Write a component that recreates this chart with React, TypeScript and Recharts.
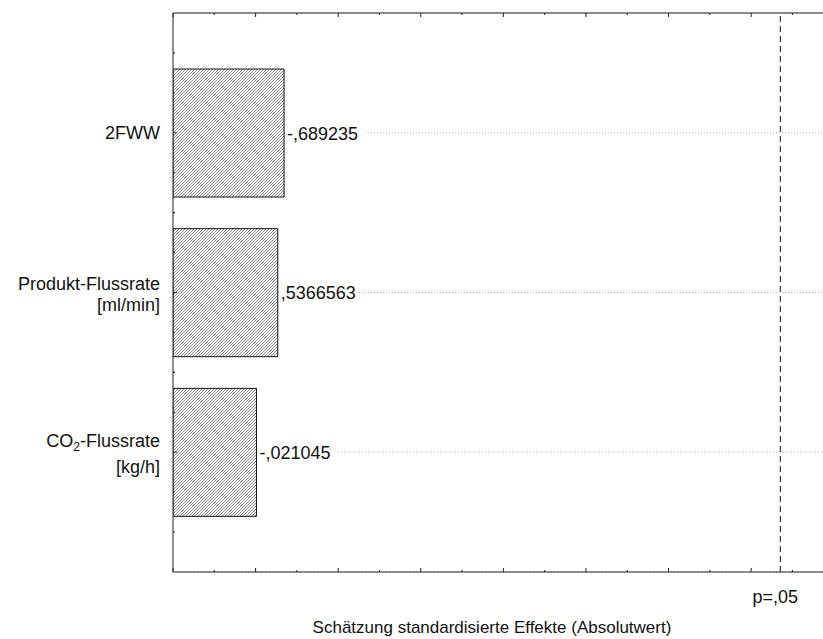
import React from 'react';
import { ComposedChart, Bar, XAxis, YAxis, CartesianGrid, ReferenceLine, LabelList } from 'recharts';

const CATEGORY_NAMES = ['2FWW', 'Produkt-Flussrate [ml/min]', 'CO₂-Flussrate [kg/h]'];
const CATEGORY_LINES = [['2FWW'], ['Produkt-Flussrate', '[ml/min]'], ['CO₂-Flussrate', '[kg/h]']];
const EFFECTS = [-0.689235, 0.5366563, -0.021045];
const EFFECT_LABELS = ['-,689235', ',5366563', '-,021045'];

const X_MIN = -2;
const X_MAX = 13.74;
const P_CRIT = 12.706;
const P_LABEL = 'p=,05';
const X_TITLE = 'Schätzung standardisierte Effekte (Absolutwert)';

const X_TICKS = [-2, -1, 0, 1, 2, 3, 4, 5, 6, 7, 8, 9, 10, 11, 12, 13];
const X_MAJOR_EVERY = 2;

const data = CATEGORY_NAMES.map((name, i) => ({
  name,
  range: [X_MIN, Math.abs(EFFECTS[i])],
  label: EFFECT_LABELS[i],
}));

const FONT = 18;
const TITLE_FONT = 17;
const AXIS_COLOR = '#222';

const renderSegments = (line: string) => {
  const parts = line.split('₂');
  if (parts.length === 1) return line;
  return (
    <>
      {parts[0]}
      <tspan dy={4} fontSize={12}>2</tspan>
      <tspan dy={-4}>{parts[1]}</tspan>
    </>
  );
};

const CategoryTick = (props: any) => {
  const { x, y, payload } = props;
  const idx = CATEGORY_NAMES.indexOf(payload.value);
  const lines = CATEGORY_LINES[idx] || [String(payload.value)];
  const offsets = lines.length === 1 ? [6] : idx === 2 ? [-5, 21] : [-3, 18];
  const half = payload.offset || 0;
  const step = half / 2;
  const minor = step > 0 ? [-2, -1, 1, 2] : [];
  return (
    <g>
      <line x1={x} x2={x + 4} y1={y} y2={y} stroke={AXIS_COLOR} />
      {minor.map((k) => (
        <line key={k} x1={x} x2={x + 2} y1={y + k * step} y2={y + k * step} stroke={AXIS_COLOR} />
      ))}
      {lines.map((ln, i) => (
        <text key={i} x={x - 13} y={y + offsets[i]} textAnchor="end" fontSize={FONT} fill="#111">
          {renderSegments(ln)}
        </text>
      ))}
    </g>
  );
};

const BottomTick = (props: any) => {
  const { x, y, payload } = props;
  const len = payload.value % X_MAJOR_EVERY === 0 ? 4 : 2;
  return <line x1={x} x2={x} y1={y} y2={y - len} stroke={AXIS_COLOR} />;
};

const TopTick = (props: any) => {
  const { x, y, payload } = props;
  const len = payload.value % X_MAJOR_EVERY === 0 ? 4 : 2;
  return <line x1={x} x2={x} y1={y} y2={y + len} stroke={AXIS_COLOR} />;
};

const ValueLabel = (props: any) => {
  const { x, y, width, height, value } = props;
  const tx = x + width + 3;
  const cy = y + height / 2;
  const w = String(value).length * 9.6 + 2;
  return (
    <g>
      <rect x={tx - 1} y={cy - 10} width={w} height={20} fill="#fff" />
      <text x={tx} y={cy + 6.5} fontSize={FONT} fill="#111">{value}</text>
    </g>
  );
};

export default function App() {
  return (
    <div style={{ position: 'absolute', left: 0, top: 0, width: 823, height: 639, background: '#fff', fontFamily: '"Liberation Sans", Arial, Helvetica, sans-serif' }}>
      <ComposedChart
        layout="vertical"
        width={823}
        height={639}
        data={data}
        margin={{ top: 12, right: 0, bottom: 0, left: 0 }}
      >
        <defs>
          <pattern id="hatch" width="3" height="3" patternUnits="userSpaceOnUse">
            <rect width="3" height="3" fill="#fff" />
            <path d="M-1,1 L1,-1 M0,3 L3,0 M2,4 L4,2" stroke="#6a6a6a" strokeWidth="0.8" />
          </pattern>
        </defs>
        <CartesianGrid xAxisId="main" yAxisId="cat" horizontal vertical={false} stroke="#b4b4b4" strokeDasharray="1 2" />
        <XAxis
          xAxisId="main"
          type="number"
          domain={[X_MIN, X_MAX]}
          allowDataOverflow
          ticks={X_TICKS}
          interval={0}
          height={67}
          axisLine={{ stroke: AXIS_COLOR }}
          tickLine={false}
          tickSize={0}
          tickMargin={0}
          tick={<BottomTick />}
          label={{ value: X_TITLE, position: 'insideBottom', offset: 6, dx: -6, fontSize: TITLE_FONT, fill: '#111' }}
        />
        <XAxis
          xAxisId="top"
          orientation="top"
          type="number"
          domain={[X_MIN, X_MAX]}
          allowDataOverflow
          ticks={X_TICKS}
          interval={0}
          height={1}
          axisLine={{ stroke: AXIS_COLOR }}
          tickLine={false}
          tickSize={0}
          tickMargin={0}
          tick={<TopTick />}
        />
        <YAxis
          yAxisId="cat"
          type="category"
          dataKey="name"
          width={173}
          padding={{ top: 40, bottom: 40 }}
          axisLine={{ stroke: AXIS_COLOR }}
          tickLine={false}
          tickSize={0}
          tickMargin={0}
          interval={0}
          tick={<CategoryTick />}
        />
        <Bar
          xAxisId="main"
          yAxisId="cat"
          dataKey="range"
          barSize={128}
          fill="url(#hatch)"
          stroke="#111"
          strokeWidth={1}
          isAnimationActive={false}
        >
          <LabelList dataKey="label" content={<ValueLabel />} />
        </Bar>
        <ReferenceLine
          xAxisId="main"
          yAxisId="cat"
          x={P_CRIT}
          stroke="#111"
          strokeDasharray="6 4"
          label={{ value: P_LABEL, position: 'bottom', offset: 18, dx: -5, fontSize: FONT, fill: '#111' }}
        />
      </ComposedChart>
    </div>
  );
}
